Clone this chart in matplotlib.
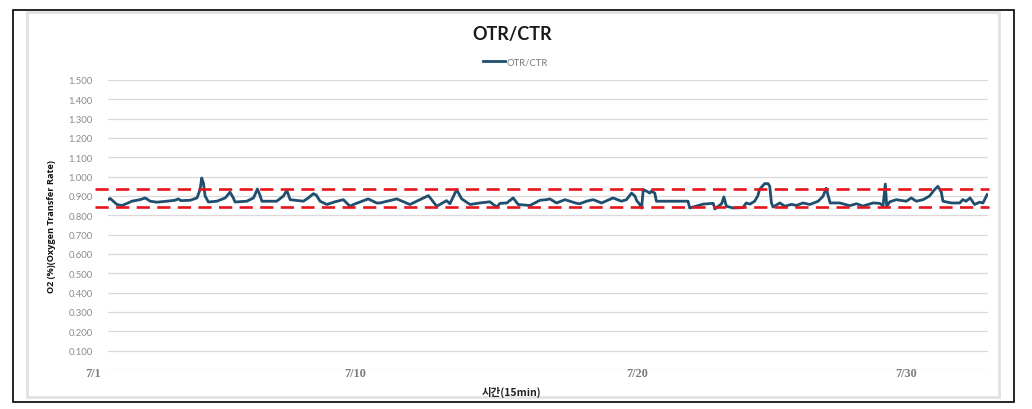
import matplotlib.pyplot as plt
from matplotlib.patches import Rectangle

# OTR/CTR series, x = days since 7/1 (15-min data)
days = [0.04, 0.18, 0.42, 0.60, 0.82, 0.95, 1.25, 1.43, 1.61, 1.85, 2.20, 2.50, 2.61, 2.71,
        3.04, 3.28, 3.39, 3.45, 3.51, 3.57, 3.69, 3.99, 4.29, 4.46, 4.58, 4.64, 5.06, 5.30,
        5.44, 5.54, 5.60, 6.13, 6.37, 6.49, 6.61, 7.08, 7.26, 7.44, 7.54, 7.68, 7.92, 8.21,
        8.51, 8.75, 8.87, 9.40, 9.70, 9.82, 10.42, 10.89, 11.55, 11.85, 12.20, 12.32, 12.56,
        12.74, 13.04, 13.39, 13.75, 13.99, 14.11, 14.35, 14.58, 14.76, 15.18, 15.54, 15.77,
        15.89, 16.13, 16.37, 16.43, 16.85, 16.96, 17.20, 17.44, 17.74, 18.15, 18.45, 18.63,
        18.81, 18.93, 19.00, 19.11, 19.17, 19.23, 19.35, 19.46, 19.52, 19.64, 19.70, 20.83,
        20.89, 21.37, 21.73, 21.79, 22.03, 22.11, 22.20, 22.44, 22.79, 22.91, 23.04, 23.21,
        23.32, 23.39, 23.57, 23.69, 23.75, 23.81, 23.87, 24.11, 24.29, 24.53, 24.70, 24.94,
        25.18, 25.48, 25.65, 25.77, 25.83, 25.91, 26.25, 26.61, 26.85, 27.08, 27.44, 27.68,
        27.80, 27.88, 27.93, 28.04, 28.27, 28.63, 28.81, 28.99, 29.23, 29.46, 29.64, 29.76,
        29.88, 29.94, 30.24, 30.54, 30.65, 30.77, 30.91, 31.07, 31.25, 31.37, 31.46, 31.52]
otr_ctr = [0.878, 0.887, 0.856, 0.851, 0.864, 0.873, 0.881, 0.890, 0.873, 0.868, 0.873, 0.878,
           0.885, 0.876, 0.878, 0.890, 0.933, 0.993, 0.967, 0.900, 0.869, 0.873, 0.890, 0.920,
           0.890, 0.869, 0.873, 0.890, 0.936, 0.900, 0.873, 0.873, 0.900, 0.929, 0.881, 0.873,
           0.890, 0.912, 0.905, 0.873, 0.856, 0.870, 0.881, 0.847, 0.856, 0.885, 0.864, 0.864,
           0.885, 0.856, 0.902, 0.847, 0.876, 0.860, 0.933, 0.885, 0.856, 0.864, 0.870, 0.843,
           0.862, 0.864, 0.890, 0.856, 0.851, 0.878, 0.881, 0.885, 0.864, 0.878, 0.881, 0.862,
           0.860, 0.873, 0.881, 0.864, 0.890, 0.873, 0.881, 0.915, 0.900, 0.875, 0.856, 0.838,
           0.933, 0.925, 0.915, 0.925, 0.915, 0.873, 0.873, 0.838, 0.858, 0.862, 0.833, 0.860,
           0.895, 0.847, 0.838, 0.840, 0.864, 0.858, 0.873, 0.900, 0.935, 0.964, 0.964, 0.950,
           0.864, 0.843, 0.864, 0.847, 0.857, 0.851, 0.864, 0.856, 0.873, 0.898, 0.940, 0.905,
           0.864, 0.864, 0.850, 0.860, 0.848, 0.864, 0.862, 0.850, 0.962, 0.845, 0.870, 0.881,
           0.873, 0.890, 0.873, 0.881, 0.900, 0.933, 0.950, 0.920, 0.873, 0.864, 0.864, 0.881,
           0.873, 0.890, 0.856, 0.868, 0.864, 0.890, 0.907]

# control limits (red dashed)
upper_limit = 0.937
lower_limit = 0.843
limit_span = [-0.36, 31.6]

# date labels on the category axis
date_pos = [-0.43, 8.93, 19.0, 28.61]
date_labels = ['7/1', '7/10', '7/20', '7/30']

y_ticks = [0.0, 0.1, 0.2, 0.3, 0.4, 0.5, 0.6, 0.7, 0.8, 0.9, 1.0, 1.1, 1.2, 1.3, 1.4, 1.5]

fig = plt.figure(figsize=(10.32, 4.10), dpi=100)
ax = fig.add_axes([108 / 1032, 39 / 410, 880 / 1032, 290 / 410])

# outer black frame and inner light panel
fig.patches.append(Rectangle((13 / 1032, 7 / 410), 1001 / 1032, 392 / 410, transform=fig.transFigure,
                             fill=False, edgecolor='black', linewidth=1.2))
fig.patches.append(Rectangle((27 / 1032, 12 / 410), 972 / 1032, 385 / 410, transform=fig.transFigure,
                             fill=False, edgecolor='#e3e3e3', linewidth=2.2))

line, = ax.plot(days, otr_ctr, color='#1f4e6e', linewidth=2.0, label='OTR/CTR', zorder=3)
ax.plot(limit_span, [upper_limit, upper_limit], color='#e8141c', linewidth=1.9,
        linestyle=(0, (5, 2.8)), clip_on=False, zorder=4)
ax.plot(limit_span, [lower_limit, lower_limit], color='#e8141c', linewidth=1.9,
        linestyle=(0, (5, 2.8)), clip_on=False, zorder=4)

ax.set_xlim(0.1, 31.55)
ax.set_ylim(0, 1.5)
ax.set_yticks(y_ticks)
ax.set_yticklabels([''] + ['{:.3f}'.format(v) for v in y_ticks[1:]],
                   fontsize=6.8, color='#8a8a8a', fontfamily='Lato')
ax.tick_params(axis='y', length=0, pad=11)
ax.set_xticks([])
ax.grid(axis='y', color='#d9d9d9', linewidth=0.9)
ax.set_axisbelow(True)
for s in ax.spines.values():
    s.set_visible(False)

for pos, lab in zip(date_pos, date_labels):
    ax.text(pos, -0.015, lab, ha='center', va='center', fontsize=8.8, color='#7a7a7a',
            fontfamily='Liberation Serif', fontweight='bold', clip_on=False)

fig.text(512 / 1032, 1 - 34.5 / 410, 'OTR/CTR', ha='center', va='center',
         fontsize=13, fontweight='bold', fontfamily='Lato', color='#1a1a1a')
fig.legend(handles=[line], loc='center', bbox_to_anchor=(515 / 1032, 1 - 62.7 / 410),
           frameon=False, handlelength=2.4, handletextpad=0.1,
           labelcolor='#7a7a7a', prop={'family': 'Lato', 'size': 6.8})
fig.text(512 / 1032, 1 - 392 / 410, '시간(15min)', ha='center', va='center',
         fontsize=7.5, fontweight='bold', fontfamily=['Noto Sans CJK KR', 'DejaVu Sans'], color='#222222')
fig.text(52 / 1032, 1 - 227 / 410, 'O2 (%)(Oxygen Transfer Rate)', ha='center', va='center',
         rotation=90, fontsize=6.6, fontweight='bold', fontfamily='Open Sans', color='#111111')

plt.savefig('out.png', dpi=100)
